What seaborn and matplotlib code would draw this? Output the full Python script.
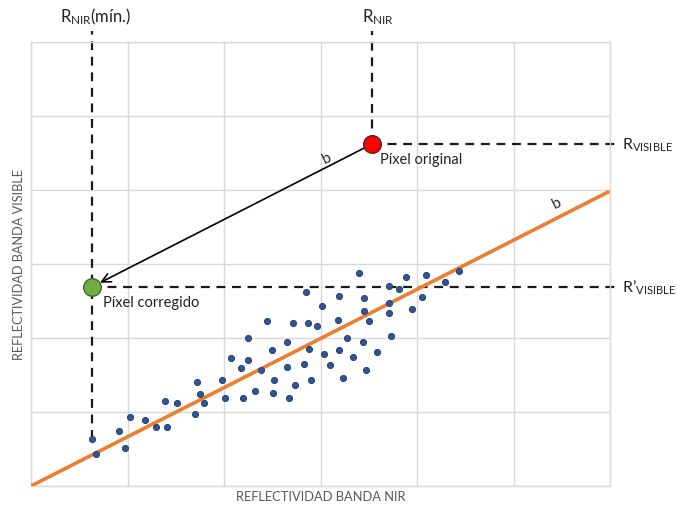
import matplotlib
matplotlib.use("Agg")
import matplotlib.pyplot as plt
import numpy as np
import pandas as pd
import seaborn as sns

# Scatter cloud of pixels: NIR reflectance vs visible reflectance
nir = [0.632, 0.674, 0.915, 0.977, 1.026, 1.184, 1.295, 1.406, 1.389, 1.516,
       1.703, 1.723, 1.751, 1.793, 1.979, 2.007, 2.073, 2.197, 2.321, 2.505,
       2.670, 2.518, 2.736, 2.905, 2.179, 2.252, 2.386, 2.252, 2.494, 2.650,
       2.650, 2.829, 2.884, 3.036, 3.102, 3.195, 2.449, 2.712, 2.867, 2.961,
       3.019, 3.181, 2.847, 3.230, 3.278, 3.337, 3.440, 3.468, 3.582, 3.727,
       3.195, 3.396, 3.451, 3.451, 3.499, 3.710, 3.710, 3.710, 3.813, 3.883,
       3.945, 4.052, 4.096, 4.290, 4.438]
visible = [0.639, 0.428, 0.743, 0.509, 0.936, 0.891, 0.797, 0.797, 1.148, 1.125,
           0.968, 1.409, 1.246, 1.117, 1.436, 1.192, 1.733, 1.192, 1.283, 1.256,
           1.192, 1.427, 1.364, 1.436, 1.598, 1.698, 1.571, 1.995, 1.833, 1.941,
           1.603, 1.643, 1.850, 1.787, 1.630, 1.837, 2.228, 2.205, 2.205, 2.165,
           2.435, 2.246, 2.616, 1.454, 1.999, 1.738, 1.941, 1.562, 1.814, 2.026,
           2.566, 2.880, 2.535, 2.367, 2.224, 2.705, 2.467, 2.340, 2.664, 2.822,
           2.386, 2.548, 2.853, 2.759, 2.907]

# Soil line (b)
line_x = [0.0, 5.98]
line_y = [0.0, 3.97]

# Original pixel and corrected pixel
original_px = (3.537, 4.62)
corrected_px = (min(nir), 2.69)

labels = {
    "nir_min": "R$_{\\mathrm{NIR}}$(mín.)",
    "nir": "R$_{\\mathrm{NIR}}$",
    "vis": "R$_{\\mathrm{VISIBLE}}$",
    "vis_corr": "R’$_{\\mathrm{VISIBLE}}$",
    "original": "Píxel original",
    "corrected": "Píxel corregido",
    "xlabel": "REFLECTIVIDAD BANDA NIR",
    "ylabel": "REFLECTIVIDAD BANDA VISIBLE",
}

sns.set_theme(style="white")
plt.rcParams["font.family"] = ["Lato", "DejaVu Sans"]
plt.rcParams["mathtext.fontset"] = "custom"
plt.rcParams["mathtext.rm"] = "Lato"
plt.rcParams["mathtext.it"] = "Lato:italic"
plt.rcParams["mathtext.bf"] = "Lato:bold"

W, H = 677, 506
fig = plt.figure(figsize=(W / 100, H / 100), dpi=100)
ax = fig.add_axes([31 / W, 19 / H, 579 / W, 444.3 / H])
ax.set_xlim(0, 6)
ax.set_ylim(0, 6)
ax.set_xticks(np.arange(0, 7))
ax.set_yticks(np.arange(0, 7))
ax.set_xticklabels([])
ax.set_yticklabels([])
ax.tick_params(length=0)
ax.grid(True, color="#d9d9d9", linewidth=1.0)
ax.set_axisbelow(True)
for s in ax.spines.values():
    s.set_color("#d9d9d9")
    s.set_linewidth(1.0)

dash = dict(color="#1a1a1a", linewidth=1.6, linestyle=(0, (4, 3)), zorder=2)
ytop = 6.145
xright = 6.10
# Dashed guides for the original pixel
ax.plot([original_px[0], original_px[0]], [original_px[1], ytop], clip_on=False, **dash)
ax.plot([original_px[0], xright], [original_px[1], original_px[1]], clip_on=False, **dash)
# Dashed guides for the corrected pixel
ax.plot([corrected_px[0], corrected_px[0]], [visible[int(np.argmin(nir))], ytop], clip_on=False, **dash)
ax.plot([corrected_px[0], xright], [corrected_px[1], corrected_px[1]], clip_on=False, **dash)

df = pd.DataFrame({"nir": nir, "visible": visible})
sns.scatterplot(data=df, x="nir", y="visible", ax=ax, s=20, color="#2f5597",
                edgecolor="#1f3864", linewidth=0.6, zorder=4)

sns.lineplot(x=line_x, y=line_y, ax=ax, color="#ed7d31", linewidth=2.6, zorder=3)

# Shift arrow from original pixel to corrected pixel
ax.annotate("", xy=corrected_px, xytext=original_px,
            arrowprops=dict(arrowstyle="->", color="black", lw=1.2,
                            shrinkA=6.5, shrinkB=6.5, mutation_scale=16),
            zorder=5)

ax.scatter([original_px[0]], [original_px[1]], s=160, color="#ff0000",
           edgecolor="#5a2020", linewidth=1.0, zorder=6)
ax.scatter([corrected_px[0]], [corrected_px[1]], s=160, color="#70ad47",
           edgecolor="#41662a", linewidth=1.0, zorder=6)

ax.text(3.617, 4.416, labels["original"], fontsize=10.5, color="#222222",
        ha="left", va="center")
ax.text(0.743, 2.485, labels["corrected"], fontsize=10.5, color="#222222",
        ha="left", va="center")

ax.text(3.067, 4.43, "b", fontsize=11, rotation=27, ha="center", va="center",
        color="#222222")
ax.text(5.451, 3.83, "b", fontsize=11, rotation=27, ha="center", va="center",
        color="#222222")

ax.text(0.30, 6.347, labels["nir_min"], fontsize=12, ha="left", va="center",
        color="#222222", clip_on=False)
ax.text(3.43, 6.347, labels["nir"], fontsize=12, ha="left", va="center",
        color="#222222", clip_on=False)
ax.text(6.125, original_px[1], labels["vis"], fontsize=11.5, ha="left", va="center",
        color="#222222", clip_on=False)
ax.text(6.12, corrected_px[1], labels["vis_corr"], fontsize=11.5, ha="left",
        va="center", color="#222222", clip_on=False)

ax.set_xlabel(labels["xlabel"], fontsize=9.3, color="#595959")
ax.set_ylabel(labels["ylabel"], fontsize=9.2, color="#595959")
ax.xaxis.set_label_coords(0.5, -0.009)
ax.yaxis.set_label_coords(-0.010, 0.5)

fig.savefig("out.png", dpi=100)
